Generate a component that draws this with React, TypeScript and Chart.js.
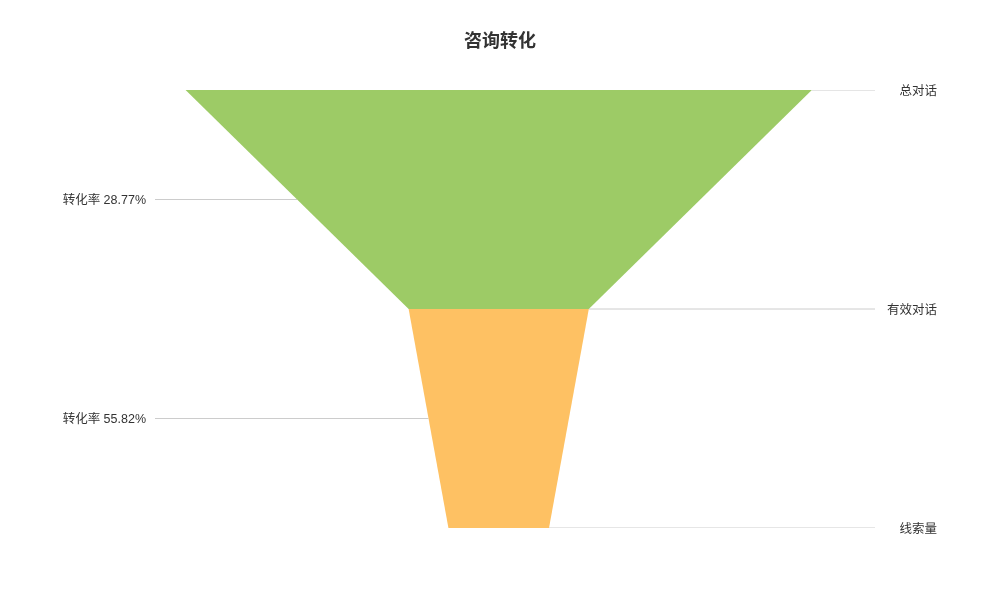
import { useEffect, useRef } from 'react'
import { Chart, registerables } from 'chart.js'

Chart.register(...registerables)

const chartTitle = '咨询转化'
const stages = ['总对话', '有效对话', '线索量']
const stageValues = [1731, 498, 278]
const conversionRates = ['28.77', '55.82']
const stageColors = ['#9dcb66', '#fec163']

const X_MIN = -950
const X_MAX = 1040
const FONT = '"Liberation Sans", "Noto Sans CJK SC", sans-serif'

// title over the funnel centre, stage labels (right) and conversion rates (left)
const funnelLabels = {
  id: 'funnelLabels',
  afterDraw(chart: Chart) {
    const { ctx, chartArea, scales } = chart
    const y = scales.y
    ctx.save()
    ctx.fillStyle = '#333'
    ctx.textBaseline = 'middle'
    ctx.textAlign = 'center'
    ctx.font = `bold 18px "Noto Sans CJK SC", sans-serif`
    ctx.fillText(chartTitle, chart.width / 2, 40)

    ctx.font = `12.5px ${FONT}`
    ctx.textAlign = 'right'
    stages.forEach((name, i) => {
      ctx.fillText(name, chartArea.right + 62, y.getPixelForValue(i) + 1.5)
    })
    conversionRates.forEach((rate, i) => {
      ctx.fillText(`转化率 ${rate}%`, chartArea.left - 9, y.getPixelForValue(i + 0.5) + 1.5)
    })
    ctx.restore()
  },
}

export default function App() {
  const canvasRef = useRef<HTMLCanvasElement>(null)
  const chartRef = useRef<Chart | null>(null)

  useEffect(() => {
    if (!canvasRef.current) return
    if (chartRef.current) chartRef.current.destroy()

    const pieces = stageColors.map((color, i) => ({
      data: [
        { x: -stageValues[i] / 2, y: i },
        { x: stageValues[i] / 2, y: i },
        { x: stageValues[i + 1] / 2, y: i + 1 },
        { x: -stageValues[i + 1] / 2, y: i + 1 },
      ],
      showLine: true,
      fill: 'shape' as const,
      backgroundColor: color,
      borderWidth: 0,
      borderColor: 'rgba(0,0,0,0)',
      pointRadius: 0,
    }))

    const leaderStyle = {
      showLine: true,
      fill: false,
      borderColor: '#cccccc',
      borderWidth: 1,
      pointRadius: 0,
    }

    const rightLines = stageValues.map((v, i) => ({
      ...leaderStyle,
      data: [
        { x: v / 2, y: i },
        { x: X_MAX, y: i },
      ],
    }))

    const leftLines = conversionRates.map((_, i) => ({
      ...leaderStyle,
      data: [
        { x: X_MIN, y: i + 0.5 },
        { x: -(stageValues[i] + stageValues[i + 1]) / 4, y: i + 0.5 },
      ],
    }))

    const ctx = canvasRef.current.getContext('2d')
    if (!ctx) return

    chartRef.current = new Chart(ctx, {
      type: 'scatter',
      data: { datasets: [...pieces, ...rightLines, ...leftLines] as any },
      options: {
        animation: false,
        responsive: true,
        maintainAspectRatio: false,
        layout: { padding: { left: 155, right: 125, bottom: 66, top: 90 } },
        scales: {
          x: { display: false, min: X_MIN, max: X_MAX },
          y: { display: false, min: 0, max: 2, reverse: true },
        },
        plugins: {
          legend: { display: false },
          tooltip: { enabled: false },
          title: { display: false },
        },
      },
      plugins: [funnelLabels],
    })

    return () => {
      if (chartRef.current) {
        chartRef.current.destroy()
        chartRef.current = null
      }
    }
  }, [])

  return (
    <div style={{ position: 'fixed', left: 0, top: 0, width: 1000, height: 594, background: '#fff' }}>
      <canvas ref={canvasRef} />
    </div>
  )
}
